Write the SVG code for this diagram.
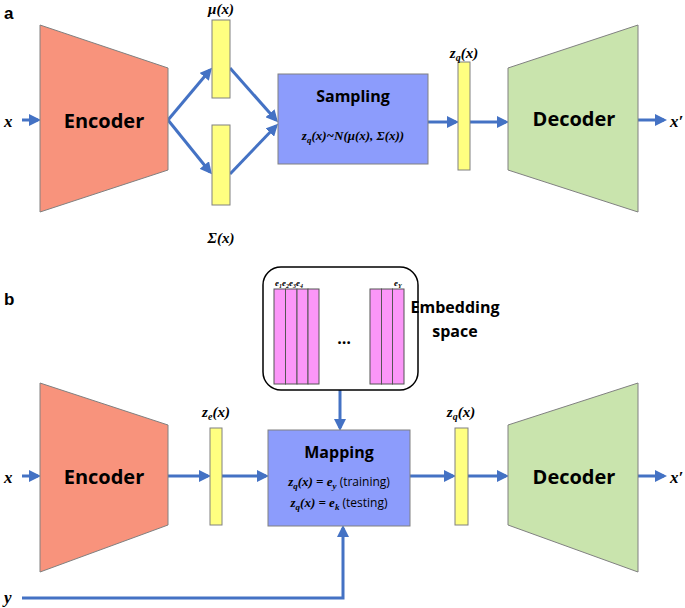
<svg xmlns="http://www.w3.org/2000/svg" width="685" height="608" viewBox="0 0 685 608">
<style>
.lbl{font-family:"Liberation Sans",Arial,sans-serif;font-weight:bold;}
.big{font-family:"Open Sans","Liberation Sans",sans-serif;font-weight:bold;font-size:20px;text-anchor:middle;}
.mid{font-family:"Open Sans","Liberation Sans",sans-serif;font-weight:bold;font-size:16px;text-anchor:middle;}
.m{font-family:"Liberation Serif",serif;font-weight:bold;font-style:italic;}
.n{font-family:"Open Sans","Liberation Sans",sans-serif;font-style:normal;font-weight:normal;}
.enc{fill:#f8937c;stroke:#808080;stroke-width:1}
.dec{fill:#c9e4ad;stroke:#808080;stroke-width:1}
.bar{fill:#ffff80;stroke:#808080;stroke-width:1}
.box{fill:#8c9cfc;stroke:#808080;stroke-width:1}
.pink{fill:#fb96f8;stroke:#555;stroke-width:1}
.c{fill:none;stroke:#4472c4;stroke-width:3;marker-end:url(#ah)}
</style>
<defs><marker id="ah" markerWidth="4" markerHeight="4" refX="3" refY="2" orient="auto"><path d="M0,0 L4,2 L0,4 Z" fill="#4472c4"/></marker></defs>
<rect width="685" height="608" fill="#fff"/>
<text class="lbl" x="4" y="19" font-size="17">a</text>
<text class="lbl" x="4" y="305" font-size="17">b</text>
<g id="connectors">
<path class="c" d="M22,120 H38"/>
<path class="c" d="M168,120 L210,70"/>
<path class="c" d="M168,120 L210,172"/>
<path class="c" d="M230,68 L276,120"/>
<path class="c" d="M230,174 L276,126"/>
<path class="c" d="M428,122 H456"/>
<path class="c" d="M470,122 H506"/>
<path class="c" d="M638,120 H664"/>
<path class="c" d="M340,390 V428"/>
<path class="c" d="M22,476 H38"/>
<path class="c" d="M168,476 H208"/>
<path class="c" d="M222,476 H266"/>
<path class="c" d="M410,476 H453"/>
<path class="c" d="M468,476 H506"/>
<path class="c" d="M638,476 H664"/>
<path class="c" d="M22,598 H343 V528"/>
</g>
<g id="xa"><text class="m" x="4" y="127" font-size="17">x</text></g>
<g id="enc-a"><polygon class="enc" points="40,25 168,68 168,170 40,212"/><text class="big" x="104" y="128">Encoder</text></g>
<g id="mu"><rect class="bar" x="212" y="20" width="18" height="78"/><text class="m" x="221" y="14" font-size="15" text-anchor="middle">μ(x)</text></g>
<g id="sigma"><rect class="bar" x="212" y="125" width="18" height="80"/><text class="m" x="221" y="243" font-size="15" text-anchor="middle">Σ(x)</text></g>
<g id="sampling"><rect class="box" x="278" y="74" width="150" height="90"/><text class="mid" x="353" y="102">Sampling</text><text class="m" x="353" y="140" font-size="13" text-anchor="middle">z<tspan font-size="9" dy="3">q</tspan><tspan dy="-3">(x)~N(μ(x), Σ(x))</tspan></text></g>
<g id="zq-a"><rect class="bar" x="458" y="62" width="12" height="108"/><text class="m" x="464" y="58" font-size="15" text-anchor="middle">z<tspan font-size="10" dy="3">q</tspan><tspan dy="-3">(x)</tspan></text></g>
<g id="dec-a"><polygon class="dec" points="508,68 638,25 638,212 508,170"/><text class="big" x="574" y="126">Decoder</text></g>
<g id="xpa"><text class="m" x="670" y="127" font-size="17">x′</text></g>
<g id="emb"><rect x="263" y="267" width="155" height="123" rx="18" fill="#fff" stroke="#000" stroke-width="1.5"/>
<rect class="pink" x="274" y="289" width="11.5" height="95"/><rect class="pink" x="285.5" y="289" width="11.5" height="95"/><rect class="pink" x="297" y="289" width="11" height="95"/><rect class="pink" x="308" y="289" width="11" height="95"/>
<rect class="pink" x="370" y="289" width="11.5" height="95"/><rect class="pink" x="381.5" y="289" width="11" height="95"/><rect class="pink" x="392.5" y="289" width="11.5" height="95"/>
<text class="m" x="275" y="286" font-size="9">e<tspan font-size="6" dy="2">1</tspan><tspan dy="-2">e</tspan><tspan font-size="6" dy="2">2</tspan><tspan dy="-2">e</tspan><tspan font-size="6" dy="2">3</tspan><tspan dy="-2">e</tspan><tspan font-size="6" dy="2">4</tspan></text>
<text class="m" x="394" y="286" font-size="9">e<tspan font-size="6" dy="2">Y</tspan></text>
<text class="mid" x="344" y="344" font-size="18">…</text>
<text class="mid" x="455" y="313">Embedding</text><text class="mid" x="455" y="337">space</text></g>
<g id="xb"><text class="m" x="4" y="483" font-size="17">x</text></g>
<g id="enc-b"><polygon class="enc" points="40,383 168,425 168,525 40,572"/><text class="big" x="104" y="484">Encoder</text></g>
<g id="ze"><rect class="bar" x="210" y="428" width="12" height="97"/><text class="m" x="216" y="417" font-size="15" text-anchor="middle">z<tspan font-size="10" dy="3">e</tspan><tspan dy="-3">(x)</tspan></text></g>
<g id="mapping"><rect class="box" x="268" y="430" width="142" height="96"/><text class="mid" x="339" y="458">Mapping</text>
<text class="m" x="339" y="486" font-size="13" text-anchor="middle">z<tspan font-size="9" dy="3">q</tspan><tspan dy="-3">(x) = e</tspan><tspan font-size="9" dy="3">y</tspan><tspan dy="-3" class="n" font-size="12"> (training)</tspan></text>
<text class="m" x="339" y="507" font-size="13" text-anchor="middle">z<tspan font-size="9" dy="3">q</tspan><tspan dy="-3">(x) = e</tspan><tspan font-size="9" dy="3">k</tspan><tspan dy="-3" class="n" font-size="12"> (testing)</tspan></text></g>
<g id="zq-b"><rect class="bar" x="455" y="428" width="13" height="97"/><text class="m" x="461" y="417" font-size="15" text-anchor="middle">z<tspan font-size="10" dy="3">q</tspan><tspan dy="-3">(x)</tspan></text></g>
<g id="dec-b"><polygon class="dec" points="508,425 638,383 638,572 508,525"/><text class="big" x="574" y="484">Decoder</text></g>
<g id="xpb"><text class="m" x="670" y="483" font-size="17">x′</text></g>
<g id="yb"><text class="m" x="4" y="603" font-size="17">y</text></g>
</svg>
